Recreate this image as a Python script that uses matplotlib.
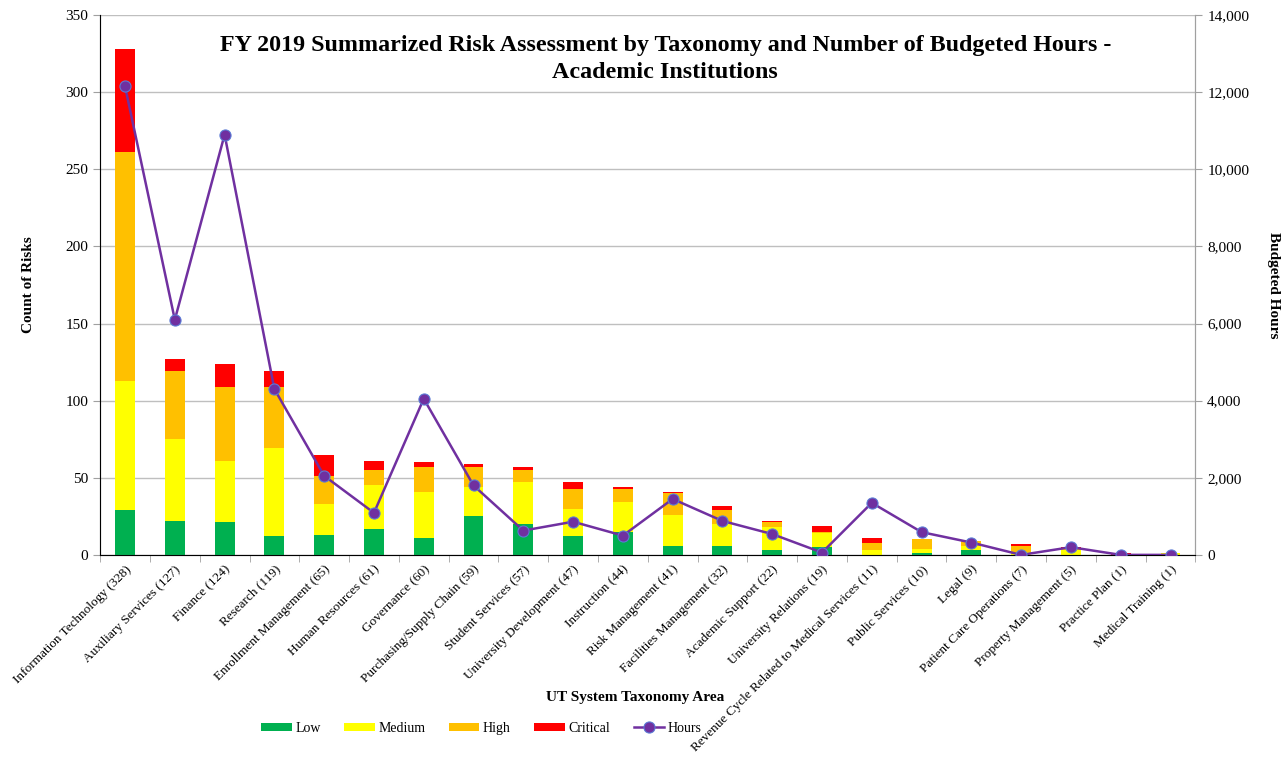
import matplotlib
matplotlib.use('Agg')
import matplotlib.pyplot as plt
import numpy as np

plt.rcParams['font.family'] = ['Liberation Serif', 'DejaVu Serif']

areas = ['Information Technology (328)', 'Auxiliary Services (127)', 'Finance (124)',
         'Research (119)', 'Enrollment Management (65)', 'Human Resources (61)',
         'Governance (60)', 'Purchasing/Supply Chain (59)', 'Student Services (57)',
         'University Development (47)', 'Instruction (44)', 'Risk Management (41)',
         'Facilities Management (32)', 'Academic Support (22)', 'University Relations (19)',
         'Revenue Cycle Related to Medical Services (11)', 'Public Services (10)',
         'Legal (9)', 'Patient Care Operations (7)', 'Property Management (5)',
         'Practice Plan (1)', 'Medical Training (1)']
low = [29, 22, 21, 12, 13, 17, 11, 25, 20, 12, 15, 6, 6, 3, 5, 0, 1, 3, 0, 0, 0, 0]
medium = [84, 53, 40, 57, 20, 28, 30, 19, 27, 18, 19, 20, 14, 15, 9, 3, 3, 3, 2, 3, 0, 1]
high = [148, 44, 48, 40, 18, 10, 16, 13, 8, 13, 9, 14, 9, 3, 1, 5, 6, 3, 4, 1, 0, 0]
critical = [67, 8, 15, 10, 14, 6, 3, 2, 2, 4, 1, 1, 3, 1, 4, 3, 0, 0, 1, 1, 1, 0]
hours = [12150, 6100, 10900, 4300, 2050, 1090, 4050, 1800, 630, 860, 500, 1450,
         880, 540, 60, 1350, 590, 320, 0, 200, 0, 0]

fig = plt.figure(figsize=(12.84, 7.57), dpi=100)
ax = fig.add_axes([0.078, 0.267, 0.853, 0.713])
x = np.arange(len(areas))
w = 0.4

bottom = np.zeros(len(areas))
for vals, col, name in [(low, '#00B050', 'Low'), (medium, '#FFFF00', 'Medium'),
                        (high, '#FFC000', 'High'), (critical, '#FF0000', 'Critical')]:
    ax.bar(x, vals, w, bottom=bottom, color=col, label=name, zorder=2)
    bottom += np.array(vals)

ax.set_ylim(0, 350)
ax.set_yticks(range(0, 351, 50))
ax.set_xlim(-0.5, len(areas) - 0.5)
ax.grid(axis='y', color='#BFBFBF', linewidth=1, zorder=0)
ax.set_axisbelow(True)
ax.set_xticks(x)
ax.set_xticklabels(areas, rotation=45, ha='right', rotation_mode='anchor', fontsize=9.5)
ax.set_xticks(np.arange(-0.5, len(areas), 1), minor=True)
ax.tick_params(axis='x', which='major', length=0, pad=6)
ax.tick_params(axis='x', which='minor', length=5, color='#A0A0A0')
ax.tick_params(axis='y', labelsize=11, color='#A0A0A0', length=5)
ax.spines['top'].set_visible(False)
for s in ['left', 'right', 'bottom']:
    ax.spines[s].set_color('#A0A0A0')
ax.set_ylabel('Count of Risks', fontweight='bold', fontsize=11, labelpad=22)
fig.text(0.495, 0.079, 'UT System Taxonomy Area', fontweight='bold', fontsize=11,
         ha='center', va='center')

ax2 = ax.twinx()
ax2.plot(x, hours, color='#7030A0', linewidth=1.8, marker='o', markersize=8,
         markerfacecolor='#7030A0', markeredgecolor='#5B7BD5', markeredgewidth=0.8,
         label='Hours', zorder=5)
ax2.set_ylim(0, 14000)
ax2.set_yticks(range(0, 14001, 2000))
ax2.set_yticklabels([f'{v:,}' for v in range(0, 14001, 2000)])
ax2.tick_params(axis='y', labelsize=11, color='#A0A0A0', length=5)
ax2.spines['top'].set_visible(False)
ax2.spines['right'].set_color('#A0A0A0')
ax2.set_ylabel('Budgeted Hours', fontweight='bold', fontsize=11, rotation=-90, labelpad=22)

ax.set_title('FY 2019 Summarized Risk Assessment by Taxonomy and Number of Budgeted Hours -\nAcademic Institutions',
             fontweight='bold', fontsize=17.3, y=0.868, x=0.516, linespacing=1.4)

h1, l1 = ax.get_legend_handles_labels()
h2, l2 = ax2.get_legend_handles_labels()
fig.legend(h1 + h2, l1 + l2, loc='center', bbox_to_anchor=(0.375, 0.038), ncol=5,
           frameon=False, fontsize=10, handlelength=2.2, handleheight=0.55,
           handletextpad=0.25, columnspacing=1.7)

fig.savefig('out.png', dpi=100)
